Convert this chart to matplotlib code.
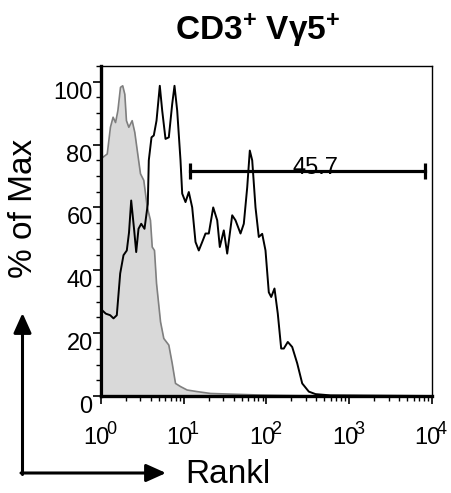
import matplotlib
matplotlib.use("Agg")
import matplotlib.pyplot as plt
from matplotlib.ticker import MultipleLocator, LogLocator, NullFormatter
from matplotlib.transforms import blended_transform_factory, offset_copy

plt.rcParams['font.family'] = ['Liberation Sans', 'DejaVu Sans']
plt.rcParams['mathtext.fontset'] = 'custom'
plt.rcParams['mathtext.rm'] = 'Liberation Sans:bold'
plt.rcParams['mathtext.it'] = 'Liberation Sans:bold'
plt.rcParams['mathtext.bf'] = 'Liberation Sans:bold'

# ---- data ----
title = r"CD3$^{+}$ Vγ5$^{+}$"
x_label = "Rankl"
y_label = "% of Max"

control_x = [1.06, 1.19, 1.30, 1.40, 1.50, 1.60, 1.72, 1.83, 1.94, 2.03, 2.17, 2.38,
             2.56, 2.78, 3.00, 3.29, 3.62, 3.96, 4.16, 4.43, 4.69, 5.24, 5.74, 6.60,
             7.25, 7.95, 9.14, 11.0, 14.5, 21.1, 48.5, 84.6, 258, 10000]
control_y = [76, 77, 85.5, 88.7, 87, 90.8, 98.2, 98.7, 96, 87.6, 85.5, 87.6,
             83.9, 77, 70.7, 68.6, 60.1, 55.9, 47.4, 46.3, 35.8, 23.6, 18.3, 16.2,
             10.4, 4, 3, 1.9, 1.4, 0.8, 0.5, 0.3, 0.1, 0]

sample_x = [1.06, 1.143, 1.292, 1.416, 1.552, 1.706, 1.870, 2.050, 2.180, 2.317,
            2.518, 2.663, 2.840, 3.061, 3.355, 3.678, 3.781, 4.076, 4.346, 4.686,
            5.135, 5.491, 6.019, 6.598, 7.252, 7.731, 8.333, 9.136, 9.578, 10.50,
            11.51, 12.65, 13.87, 15.20, 16.71, 18.32, 20.08, 22.70, 25.37, 27.27,
            30.48, 33.50, 38.51, 42.22, 48.52, 53.18, 58.47, 62.84, 67.18, 73.65,
            80.72, 88.72, 97.25, 106.6, 114.0, 124.9, 136.9, 150.5, 161.8, 180.9,
            204.4, 235.0, 270.1, 324.5, 390.9, 593.5, 10000]
sample_y = [27, 26.2, 25.7, 24.7, 25.7, 39, 44.8, 46.3, 52, 62.2,
            52.7, 45.8, 53.2, 54.8, 53.2, 61.1, 75, 82.3, 82.9, 87.6,
            98.7, 90.8, 81.8, 82.3, 92.9, 98.7, 90.8, 75, 64.4, 61.7,
            64.9, 60, 49, 46.3, 49, 51.7, 51.7, 60, 55.9, 47.4,
            52.7, 45.3, 57.5, 55.9, 51.7, 54.8, 66.4, 78.1, 75, 60,
            50.6, 51.6, 46.3, 33, 31.5, 34.2, 26.2, 15.1, 15.1, 17.2,
            15.6, 10.4, 4, 1.4, 0.6, 0.2, 0]

gate_x = [12.0, 8330.0]
gate_y = 71.5
gate_label = "45.7"
gate_label_x = 390.0

y_ticks = [0, 20, 40, 60, 80, 100]
x_ticks = [1, 10, 100, 1000, 10000]
x_tick_exps = ["0", "1", "2", "3", "4"]

# ---- figure ----
W, H = 452, 493
fig = plt.figure(figsize=(W / 100, H / 100), dpi=100)
ax = fig.add_axes([101 / W, 1 - 396 / H, (432 - 101) / W, (396 - 66) / H])

ax.fill_between(control_x, control_y, 0, color='#d9d9d9', lw=0, zorder=1)
ax.plot(control_x, control_y, color='#7f7f7f', lw=1.2, zorder=2)
ax.plot(sample_x, sample_y, color='black', lw=1.4, zorder=3)

# gate
ax.plot(gate_x, [gate_y, gate_y], color='black', lw=2.3, zorder=4,
        marker='|', markersize=11, markeredgewidth=2.3)
ax.text(gate_label_x, gate_y - 0.8, gate_label, ha='center', va='baseline',
        fontsize=17, zorder=3)

ax.set_xscale('log')
ax.set_xlim(1, 10000)
ax.set_ylim(0, 105)

ax.set_yticks(y_ticks)
ax.set_yticklabels([str(v) for v in y_ticks], fontsize=17)
for lbl in ax.get_yticklabels():
    lbl.set_verticalalignment('top')
ax.yaxis.set_minor_locator(MultipleLocator(5))

ax.set_xticks(x_ticks)
ax.set_xticklabels([""] * len(x_ticks))
ax.xaxis.set_minor_locator(LogLocator(base=10, subs=range(2, 10), numticks=20))
ax.xaxis.set_minor_formatter(NullFormatter())

ax.tick_params(axis='both', which='major', direction='out', length=6, width=1.2,
               color='black', pad=0)
ax.tick_params(axis='both', which='minor', direction='out', length=3.5, width=1.0,
               color='black')

for side in ['left', 'bottom']:
    ax.spines[side].set_linewidth(2.4)
for side in ['top', 'right']:
    ax.spines[side].set_linewidth(1.0)

# x tick labels: "10" with overlapping superscript
tr = blended_transform_factory(ax.transData, fig.transFigure)
for xv, e in zip(x_ticks, x_tick_exps):
    t1 = offset_copy(tr, fig=fig, x=9 * 72 / 100, y=0, units='points')
    ax.text(xv, 1 - 444 / H, "10", transform=t1, ha='right', va='baseline',
            fontsize=17, clip_on=False)
    t2 = offset_copy(tr, fig=fig, x=5 * 72 / 100, y=0, units='points')
    ax.text(xv, 1 - 434 / H, e, transform=t2, ha='left', va='baseline',
            fontsize=13, clip_on=False)

# title and labels
fig.text(258 / W, 1 - 40 / H, title, ha='center', va='baseline',
         fontsize=24, fontweight='bold')
fig.text(23.5 / W, 1 - 208 / H, y_label, rotation=90, ha='center', va='center',
         fontsize=24)
fig.text(185 / W, 1 - 483 / H, x_label, ha='left', va='baseline', fontsize=24)

# arrows
style = dict(arrowstyle='-|>,head_length=1.0,head_width=0.45', mutation_scale=12,
             lw=2.2, color='black', shrinkA=0, shrinkB=0)
fig.add_artist(matplotlib.patches.FancyArrowPatch(
    (22.5 / W, 1 - 474.5 / H), (22.5 / W, 1 - 313 / H),
    transform=fig.transFigure, **style))
fig.add_artist(matplotlib.patches.FancyArrowPatch(
    (21 / W, 1 - 473 / H), (166 / W, 1 - 473 / H),
    transform=fig.transFigure, **style))

fig.savefig("out.png", dpi=100)
